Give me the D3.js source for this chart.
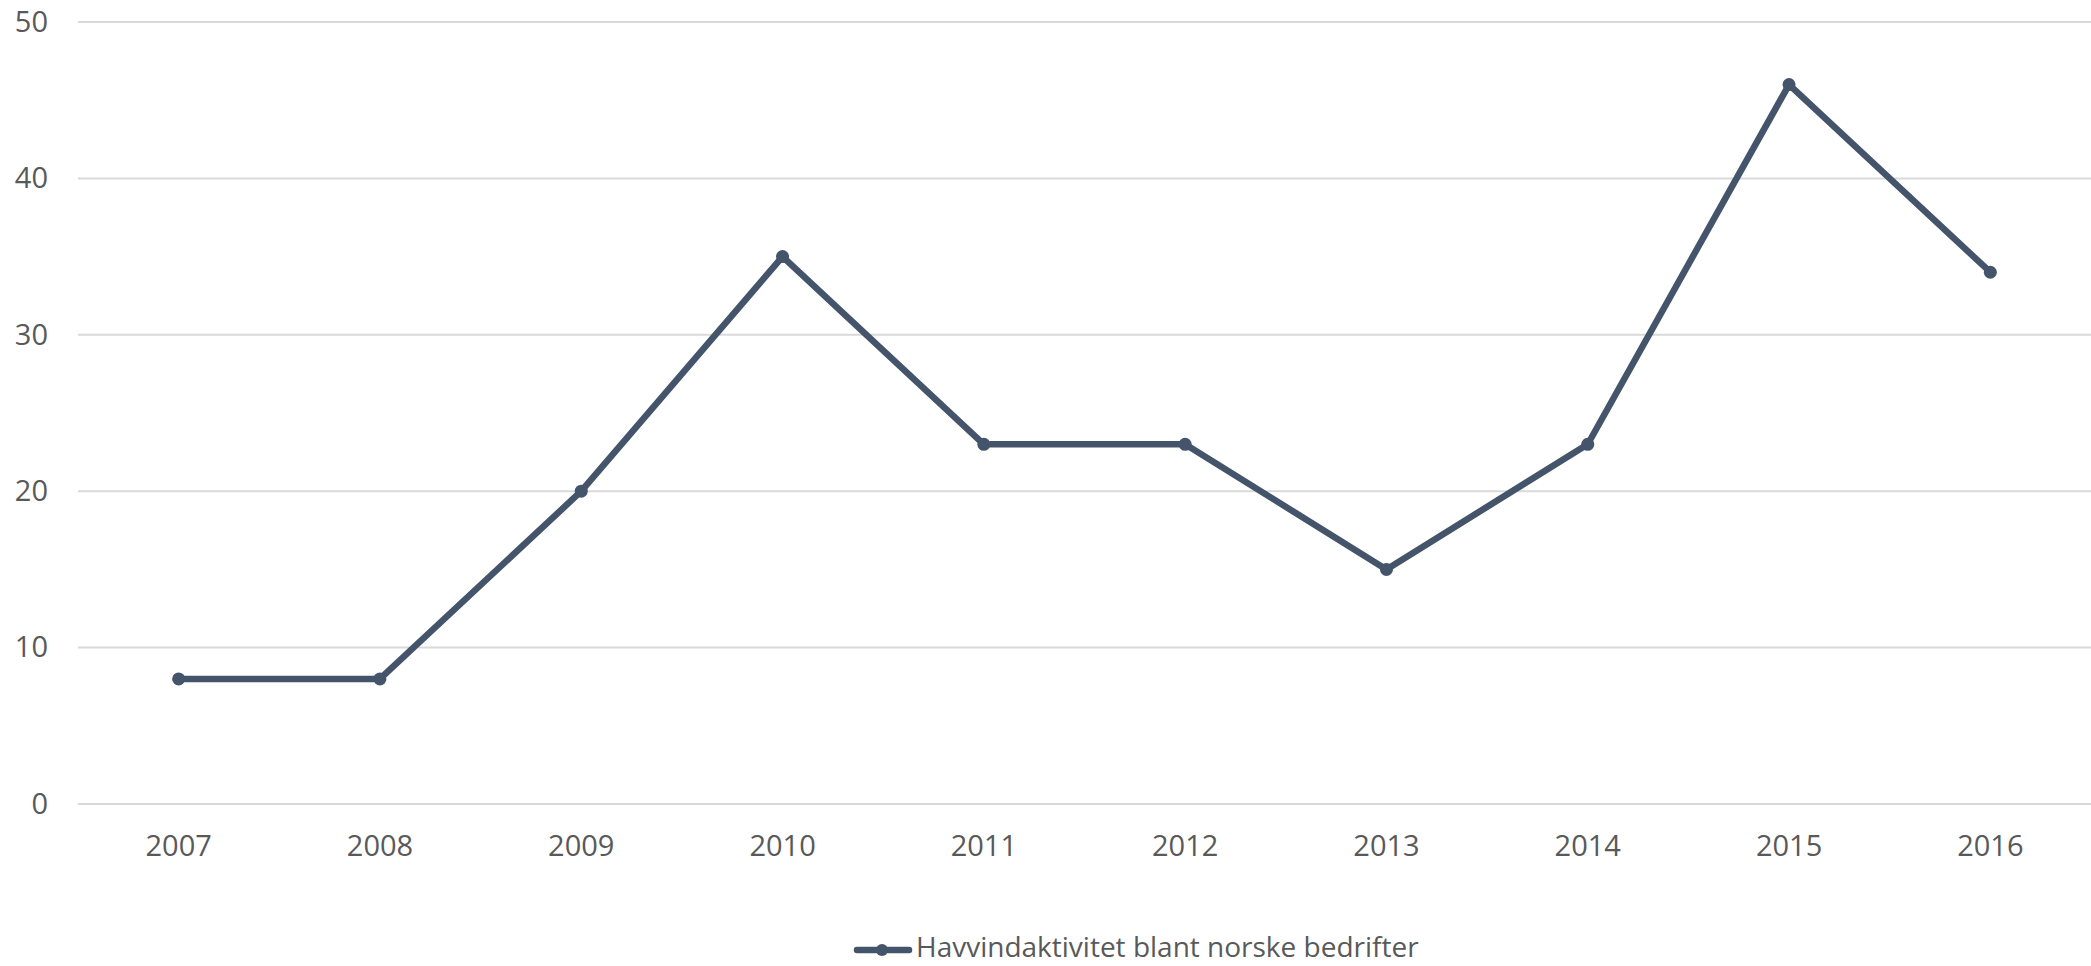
<!DOCTYPE html>
<html>
<head>
<meta charset="utf-8">
<script src="https://cdn.jsdelivr.net/npm/d3@7"></script>
<style>
  html, body { margin: 0; padding: 0; background: #fff; }
  svg { display: block; }
  text { font-family: "Open Sans", "Noto Sans", sans-serif; fill: #595959; }
</style>
</head>
<body>
<script>
const years = ["2007","2008","2009","2010","2011","2012","2013","2014","2015","2016"];
const values = [8, 8, 20, 35, 23, 23, 15, 23, 46, 34];
const yTicks = [0, 10, 20, 30, 40, 50];
const seriesName = "Havvindaktivitet blant norske bedrifter";

const W = 2091, H = 966;
const plotLeft = 78, plotRight = 2091, plotTop = 22, plotBottom = 804;
const lineColor = "#44546A";

const svg = d3.select("body").append("svg").attr("width", W).attr("height", H);

const x = d3.scaleBand().domain(years).range([plotLeft, plotRight]);
const y = d3.scaleLinear().domain([0, 50]).range([plotBottom, plotTop]);

// gridlines
svg.append("g").selectAll("line").data(yTicks).join("line")
  .attr("x1", plotLeft).attr("x2", plotRight)
  .attr("y1", d => y(d)).attr("y2", d => y(d))
  .attr("stroke", "#d9d9d9").attr("stroke-width", 2);

// y axis labels
const yAxis = d3.axisLeft(y).tickValues(yTicks).tickSize(0).tickPadding(0);
const gy = svg.append("g").attr("transform", `translate(${plotLeft - 30},0)`).call(yAxis);
gy.select(".domain").remove();
gy.selectAll("text").attr("font-size", 29).attr("fill", "#595959")
  .attr("font-family", "'Open Sans', sans-serif");

// x axis labels
const xAxis = d3.axisBottom(x).tickSize(0).tickPadding(0);
const gx = svg.append("g").attr("transform", `translate(0,${plotBottom + 31.5})`).call(xAxis);
gx.select(".domain").remove();
gx.selectAll("text").attr("font-size", 29).attr("fill", "#595959")
  .attr("font-family", "'Open Sans', sans-serif");

const cx = d => x(d) + x.bandwidth() / 2;

// line
const line = d3.line().x((d, i) => cx(years[i])).y(d => y(d));
svg.append("path").datum(values)
  .attr("d", line).attr("fill", "none")
  .attr("stroke", lineColor).attr("stroke-width", 6.5)
  .attr("stroke-linejoin", "round").attr("stroke-linecap", "round");

svg.append("g").selectAll("circle").data(values).join("circle")
  .attr("cx", (d, i) => cx(years[i])).attr("cy", d => y(d))
  .attr("r", 6.5).attr("fill", lineColor);

// legend
const lg = svg.append("g");
lg.append("line").attr("x1", 857).attr("x2", 909).attr("y1", 950).attr("y2", 950)
  .attr("stroke", lineColor).attr("stroke-width", 6.5).attr("stroke-linecap", "round");
lg.append("circle").attr("cx", 882).attr("cy", 950).attr("r", 6).attr("fill", lineColor);
lg.append("text").attr("x", 916).attr("y", 957)
  .attr("font-size", 28).text(seriesName);
</script>
</body>
</html>
